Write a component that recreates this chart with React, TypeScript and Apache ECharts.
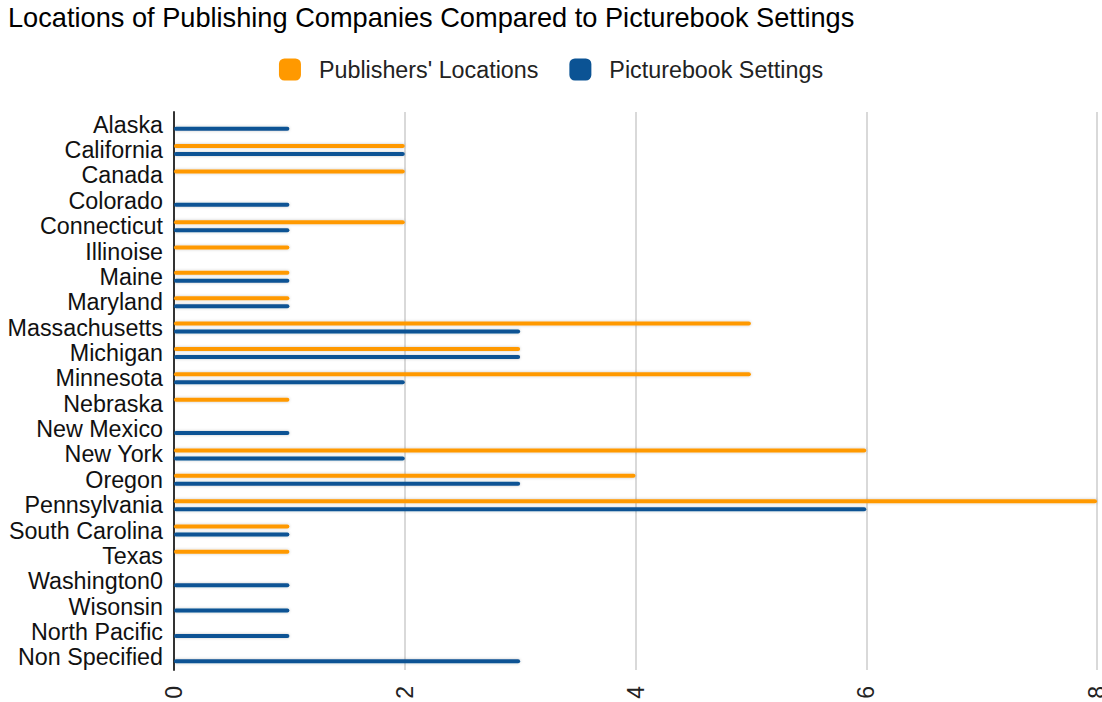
import React, { useEffect, useRef } from "react";
import * as echarts from "echarts";

const categories = [
  "Alaska", "California", "Canada", "Colorado", "Connecticut", "Illinoise",
  "Maine", "Maryland", "Massachusetts", "Michigan", "Minnesota", "Nebraska",
  "New Mexico", "New York", "Oregon", "Pennsylvania", "South Carolina",
  "Texas", "Washington0", "Wisonsin", "North Pacific", "Non Specified",
];
const publishersLocations = [0, 2, 2, 0, 2, 1, 1, 1, 5, 3, 5, 1, 0, 6, 4, 8, 1, 1, 0, 0, 0, 0];
const picturebookSettings = [1, 2, 0, 1, 1, 0, 1, 1, 3, 3, 2, 0, 1, 2, 3, 6, 1, 0, 1, 1, 1, 3];
const xTicks = { min: 0, max: 8, interval: 2 };

const FONT = "'Liberation Sans', Arial, sans-serif";

export default function App() {
  const ref = useRef<HTMLDivElement>(null);
  useEffect(() => {
    if (!ref.current) return;
    const chart = echarts.init(ref.current, null, { renderer: "svg" });
    const barStyle = (color: string) => ({
      color,
      borderRadius: 2,
      shadowBlur: 3,
      shadowColor: "rgba(0,0,0,0.22)",
    });
    chart.setOption({
      animation: false,
      textStyle: { fontFamily: FONT },
      title: {
        text: "Locations of Publishing Companies Compared to Picturebook Settings",
        left: 8,
        top: 4,
        padding: 0,
        textStyle: { fontFamily: FONT, fontSize: 27.2, fontWeight: "normal", color: "#000" },
      },
      legend: {
        top: 58,
        left: "center",
        icon: "roundRect",
        itemWidth: 22,
        itemHeight: 22,
        itemGap: 31,
        padding: 0,
        textStyle: { fontFamily: FONT, fontSize: 23.3, color: "#222", padding: [0, 0, 0, 13] },
      },
      grid: {
        left: 174,
        right: 5,
        top: 112,
        bottom: 32,
        containLabel: false,
        outerBoundsMode: "none",
      },
      xAxis: {
        type: "value",
        min: xTicks.min,
        max: xTicks.max,
        interval: xTicks.interval,
        axisLine: { show: false },
        axisTick: { show: false },
        splitLine: { lineStyle: { color: "#cccccc", width: 1.5 } },
        axisLabel: {
          rotate: 90,
          margin: 16,
          fontSize: 23,
          color: "#222",
          fontFamily: FONT,
        },
      },
      yAxis: {
        type: "category",
        data: categories,
        inverse: true,
        axisLine: { lineStyle: { color: "#333", width: 2 } },
        axisTick: { show: false },
        axisLabel: { interval: 0, fontSize: 23.3, color: "#111", fontFamily: FONT, margin: 11 },
      },
      series: [
        {
          name: "Publishers' Locations",
          type: "bar",
          data: publishersLocations,
          barWidth: 4,
          barGap: "100%",
          itemStyle: barStyle("#ff9900"),
        },
        {
          name: "Picturebook Settings",
          type: "bar",
          data: picturebookSettings,
          barWidth: 4,
          barGap: "100%",
          itemStyle: barStyle("#0b5394"),
        },
      ],
    });
    return () => chart.dispose();
  }, []);
  return (
    <div
      ref={ref}
      style={{ position: "fixed", left: 0, top: 0, width: 1102, height: 702, background: "#fff" }}
    />
  );
}
